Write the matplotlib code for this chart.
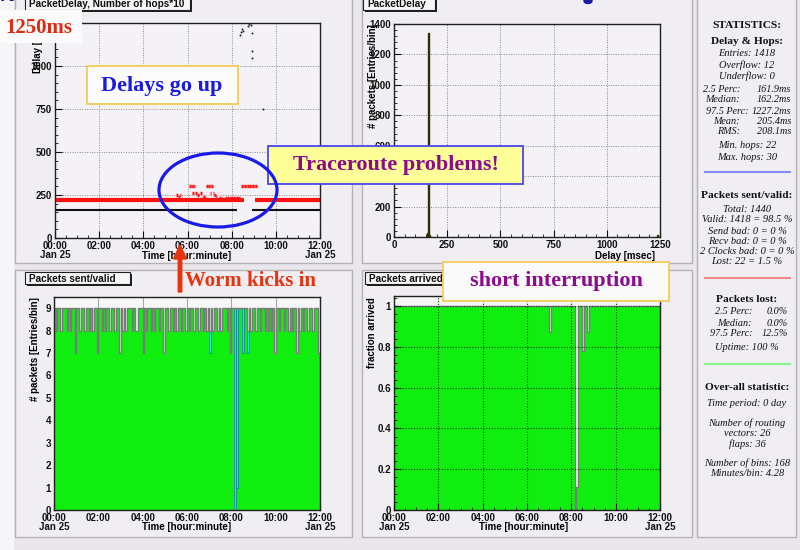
import numpy as np
import matplotlib
matplotlib.use("Agg")
import matplotlib.pyplot as plt
from matplotlib import patches
from matplotlib.ticker import MultipleLocator

plt.rcParams['font.family'] = ['Liberation Sans', 'DejaVu Sans']
plt.rcParams['font.weight'] = 'bold'

W, H = 800, 550

# ---------------- data ----------------
n_bins = 168
hours_total = 12
time_ticks = [0, 2, 4, 6, 8, 10, 12]
time_labels = ["00:00\nJan 25", "02:00", "04:00", "06:00", "08:00", "10:00", "12:00\nJan 25"]

# packets per 4.28-minute bin (one digit per bin, 14 bins per hour)
packets_sent = ("98998999898997" "99899899898997" "99898998998997" "98989998988999"
                "79899898998997" "99899898998998" "98998998998989" "89899898999897"
                "99999999998989" "98998998989897" "99899899898997" "98989989989997")
packets_valid = ("98998999898997" "99899899898997" "99898998998997" "98989998988999"
                 "79899898998997" "99899898998998" "98998998998989" "79899898999897"
                 "99019997997989" "98998998989897" "99899899898997" "98989989989997")

# delay (black) : segments in hours
delay_seg_start_h = [0.0, 8.92]
delay_seg_end_h = [8.22, 12.0]
delay_seg_ms = [162, 162]
# delay outliers
outlier_t_h = [8.36, 8.42, 8.46, 8.50, 8.72, 8.80, 8.88, 8.92, 8.92, 8.92, 9.42]
outlier_ms = [1180, 1200, 1215, 1205, 1235, 1245, 1240, 1190, 1087, 1045, 750]

# number of hops (drawn *10): main level segments in bins
hops_seg_start = [0, 127]
hops_seg_end = [120, 168]
hops_seg_value = [22, 22]
# additional hop values
extra_hop_bins = [77, 78, 79, 85, 86, 87, 88, 87, 89, 90, 92, 93, 94, 95,
                  96, 97, 98, 99, 98, 100, 101, 102, 104, 105,
                  108, 109, 110, 111, 112, 113, 114, 115, 116,
                  118, 119, 120, 121, 122, 123, 124, 125, 126, 127]
extra_hops = [25, 24, 25, 30, 30, 30, 30, 26, 26, 25, 26, 23, 24, 23,
              30, 30, 30, 30, 26, 26, 25, 24, 23, 23,
              23, 23, 23, 23, 23, 23, 23, 23, 23,
              30, 30, 30, 30, 30, 30, 30, 30, 30, 30]

# delay histogram
hist_centers_ms = [157.5, 162.5, 167.5, 752.5, 1062.5, 1087.5, 1192.5, 1237.5]
hist_counts = [25, 1340, 15, 1, 1, 1, 3, 10]

stats_lines = [
    (25, "STATISTICS:", 'h'), (41, "Delay & Hops:", 'h'),
    (54, "Entries: 1418", 'c'), (65, "Overflow: 12", 'c'), (76, "Underflow: 0", 'c'),
    (89, ("2.5 Perc:", "161.9ms", 740), 't'), (100, ("Median:", "162.2ms", 740), 't'),
    (111, ("97.5 Perc:", "1227.2ms", 749), 't'), (122, ("Mean:", "205.4ms", 740), 't'),
    (132, ("RMS:", "208.1ms", 740), 't'),
    (146, "Min. hops: 22", 'c'), (157, "Max. hops: 30", 'c'),
    (195, "Packets sent/valid:", 'h'),
    (209, "Total: 1440", 'c'), (220, "Valid: 1418 = 98.5 %", 'c'),
    (231, "Send bad: 0 = 0 %", 'c'), (241, "Recv bad: 0 = 0 %", 'c'),
    (252, "2 Clocks bad: 0 = 0 %", 'c'), (262, "Lost: 22 = 1.5 %", 'c'),
    (299, "Packets lost:", 'h'),
    (312, ("2.5 Perc:", "0.0%", 752), 'u'), (323, ("Median:", "0.0%", 752), 'u'),
    (334, ("97.5 Perc:", "12.5%", 752), 'u'), (348, "Uptime: 100 %", 'c'),
    (387, "Over-all statistic:", 'h'),
    (403, "Time period: 0 day", 'c'),
    (423, "Number of routing", 'c'), (434, "vectors: 26", 'c'), (444, "flaps: 36", 'c'),
    (463, "Number of bins: 168", 'c'), (474, "Minutes/bin: 4.28", 'c'),
]

# ---------------- derived ----------------
sent = np.array([int(c) for c in packets_sent], dtype=float)
valid = np.array([int(c) for c in packets_valid], dtype=float)
bw = hours_total / n_bins
edges = np.arange(n_bins + 1) * bw
fraction = valid / sent

GREEN = '#10ee10'
RED = '#ff1010'

fig = plt.figure(figsize=(8, 5.5), dpi=100)
fig.patch.set_facecolor('#e9e7ec')

bg = fig.add_axes([0, 0, 1, 1], zorder=-10)
bg.set_xlim(0, W); bg.set_ylim(H, 0); bg.axis('off')

bg.add_patch(patches.Rectangle((0, 0), 14, H, fc='#f6f6f8', ec='none'))
for (x0, y0, x1, y1) in [(15, -2, 352, 263), (362, -2, 692, 263), (15, 270, 352, 537),
                         (362, 270, 692, 537), (697, -2, 796, 537)]:
    bg.add_patch(patches.Rectangle((x0, y0), x1 - x0, y1 - y0, fc='#f0eef2', ec='#b4b2b8', lw=1))


def title_box(x0, y0, x1, y1, s):
    bg.add_patch(patches.Rectangle((x0 + 2, y0 + 2), x1 - x0, y1 - y0, fc='#202020', ec='none'))
    bg.add_patch(patches.Rectangle((x0, y0), x1 - x0, y1 - y0, fc='#f6f6f6', ec='#202020', lw=0.8))
    bg.text(x0 + 4, (y0 + y1) / 2 + 0.5, s, ha='left', va='center', fontsize=7.2, color='#111')


title_box(25, -3, 190, 10, "PacketDelay, Number of hops*10")
title_box(363, -3, 435, 10, "PacketDelay")
title_box(25, 272, 130, 284, "Packets sent/valid")
title_box(365, 272, 455, 284, "Packets arrived")

bg.text(0, 5, "N", fontsize=15, color='#1a1aa0', ha='left', va='bottom')
bg.add_patch(patches.Ellipse((588, 1), 8, 5, color='#1a1aa0'))


def px_axes(x0, y0, x1, y1):
    return fig.add_axes([x0 / W, 1 - y1 / H, (x1 - x0) / W, (y1 - y0) / H])


def style(ax):
    ax.set_facecolor('#f4f2f6')
    for s in ax.spines.values():
        s.set_color('#202020'); s.set_linewidth(1)
    ax.tick_params(which='both', direction='in', labelsize=7, colors='#111', top=False, right=False)
    ax.tick_params(which='major', length=5, width=0.8, pad=2)
    ax.tick_params(which='minor', length=2.5, width=0.6)


def time_axis(ax):
    ax.set_xlim(0, hours_total)
    ax.set_xticks(time_ticks)
    ax.set_xticklabels(time_labels, linespacing=0.9)
    ax.xaxis.set_minor_locator(MultipleLocator(0.5))


gridkw = dict(ls=(0, (1, 1.5)), color='#888888', lw=0.7)

# --- top-left: delay vs time ---
ax1 = px_axes(55, 23, 320, 238)
style(ax1)
time_axis(ax1)
ax1.set_ylim(0, 1250)
ax1.set_yticks([0, 250, 500, 750, 1000])
ax1.yaxis.set_minor_locator(MultipleLocator(50))
ax1.grid(True, which='major', **gridkw)
ax1.set_axisbelow(True)
ax1.hlines(delay_seg_ms, delay_seg_start_h, delay_seg_end_h, color='#101010', lw=1.5)
ax1.plot(outlier_t_h, outlier_ms, ls='none', marker='o', ms=1.4, mew=0, color='#202020')
for a, b, v in zip(hops_seg_start, hops_seg_end, hops_seg_value):
    ax1.hlines(v * 10, a * bw, b * bw, color=RED, lw=3)
eb = np.array(extra_hop_bins)
ax1.hlines(np.array(extra_hops) * 10, eb * bw, (eb + 1) * bw, color=RED, lw=2.4)

# --- top-right: histogram ---
ax2 = px_axes(394, 24, 660, 237)
style(ax2)
ax2.set_xlim(0, 1250); ax2.set_ylim(0, 1400)
ax2.set_xticks([0, 250, 500, 750, 1000, 1250])
ax2.set_yticks(range(0, 1401, 200))
ax2.xaxis.set_minor_locator(MultipleLocator(50))
ax2.yaxis.set_minor_locator(MultipleLocator(40))
ax2.grid(True, which='major', **gridkw)
ax2.set_axisbelow(True)
ax2.bar(hist_centers_ms, hist_counts, width=5, color='#b8b800', edgecolor='#303000', lw=1.0)

# --- bottom-left: packets sent/valid ---
ax3 = px_axes(54, 297, 320, 510)
style(ax3)
ax3.set_facecolor('#f7f6f8')
time_axis(ax3)
ax3.set_ylim(0, 9.5)
ax3.set_yticks(range(0, 10))
ax3.grid(True, axis='x', which='major', color='#a8a8a8', lw=0.8)
ax3.set_axisbelow(True)
ax3.stairs(valid, edges, fill=True, color=GREEN, lw=0, zorder=1)
diff = sent - valid
m = diff > 0
ax3.bar(edges[:-1][m], diff[m], bottom=valid[m], width=bw, align='edge',
        color='#22dcee', edgecolor='#138a92', lw=0.6, zorder=1.5)
ax3.stairs(sent, edges, color='#7a7a7a', lw=1, zorder=2)

# --- bottom-right: fraction arrived ---
ax4 = px_axes(394, 296, 660, 510)
style(ax4)
ax4.set_facecolor('#f7f6f8')
time_axis(ax4)
ax4.set_ylim(0, 1.05)
ax4.set_yticks([0, 0.2, 0.4, 0.6, 0.8, 1])
ax4.set_yticklabels(["0", "0.2", "0.4", "0.6", "0.8", "1"])
ax4.yaxis.set_minor_locator(MultipleLocator(0.04))
ax4.stairs(fraction, edges, fill=True, color=GREEN, lw=0, zorder=1)
ax4.stairs(fraction, edges, color='#7a7a7a', lw=1, zorder=2)
ax4.grid(True, which='major', ls=(0, (1, 1.5)), color=(0, 0.25, 0, 0.6), lw=0.8)
ax4.set_axisbelow(False)

# --- axis titles (pixel coords) ---
bg.text(38, 24, "Delay [ms]", rotation=90, ha='center', va='top', fontsize=7)
bg.text(373, 24, "# packets [Entries/bin]", rotation=90, ha='center', va='top', fontsize=7)
bg.text(35, 297, "# packets [Entries/bin]", rotation=90, ha='center', va='top', fontsize=7)
bg.text(372, 297, "fraction arrived", rotation=90, ha='center', va='top', fontsize=7)
bg.text(187, 256, "Time [hour:minute]", ha='center', va='center', fontsize=7)
bg.text(655, 256, "Delay [msec]", ha='right', va='center', fontsize=7)
bg.text(187, 527, "Time [hour:minute]", ha='center', va='center', fontsize=7)
bg.text(524, 527, "Time [hour:minute]", ha='center', va='center', fontsize=7)

# --- statistics panel ---
serif = ['Liberation Serif', 'DejaVu Serif']
for y, s, kind in stats_lines:
    if kind == 'h':
        bg.text(747, y, s, ha='center', va='center', family=serif, weight='bold', fontsize=8.2, color='#111')
    elif kind == 'c':
        bg.text(747, y, s, ha='center', va='center', family=serif, style='italic',
                weight='normal', fontsize=7.5, color='#111')
    else:
        lab, val, xr = s
        xv = 791 if kind == 't' else 788
        bg.text(xr, y, lab, ha='right', va='center', family=serif, style='italic',
                weight='normal', fontsize=7.3, color='#111')
        bg.text(xv, y, val, ha='right', va='center', family=serif, style='italic',
                weight='normal', fontsize=7.3, color='#111')
for y, c in [(172, '#8888f4'), (278, '#f48888'), (364, '#88f488')]:
    bg.plot([705, 790], [y, y], color=c, lw=1.5)

# --- overlay annotations ---
ov = fig.add_axes([0, 0, 1, 1], zorder=10)
ov.set_xlim(0, W); ov.set_ylim(H, 0); ov.axis('off')
ov.patch.set_alpha(0)

ov.add_patch(patches.Rectangle((0, 10), 82, 33, fc='#fbfbfb', ec='none'))
ov.text(5, 28, "1250ms", ha='left', va='center', family=serif, weight='bold', fontsize=15, color='#e02a10')

ov.add_patch(patches.Rectangle((87, 66), 151, 38, fc='#fcfcfc', ec='#f4cc58', lw=1.3))
ov.text(162, 86, "Delays go up", ha='center', va='center', family=serif, weight='bold', fontsize=16, color='#1a1ae0')

ov.add_patch(patches.Rectangle((268, 146), 255, 38, fc='#ffff99', ec='#4848ee', lw=1.3))
ov.text(396, 165, "Traceroute problems!", ha='center', va='center', family=serif, weight='bold',
        fontsize=16, color='#8c0a8c')

ov.add_patch(patches.Rectangle((443, 262), 226, 39, fc='#fbfafb', ec='#f4cc58', lw=1.3))
ov.text(556, 281, "short interruption", ha='center', va='center', family=serif, weight='bold',
        fontsize=16, color='#8c0a8c')

ov.add_patch(patches.Ellipse((218, 190), 118, 74, fill=False, ec='#1a1ae8', lw=2.3))

ov.add_patch(patches.FancyArrow(180, 292, 0, -47, width=3.5, head_width=13, head_length=14,
                                length_includes_head=True, color='#e8340c'))
ov.text(185, 281, "Worm kicks in", ha='left', va='center', family=serif, weight='bold',
        fontsize=15, color='#e8340c')

fig.savefig("out.png", dpi=100, facecolor=fig.get_facecolor())
